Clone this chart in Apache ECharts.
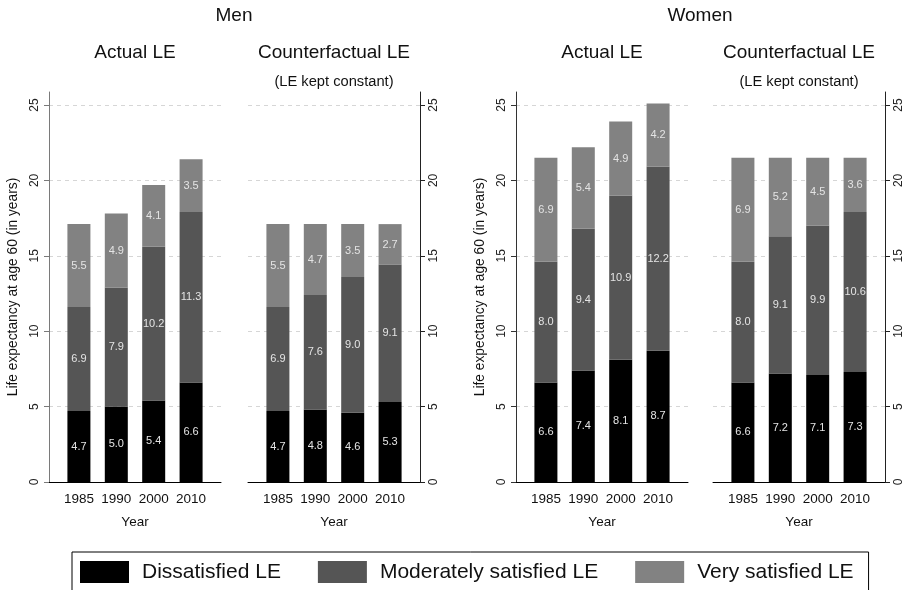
<!DOCTYPE html>
<html>
<head>
<meta charset="utf-8">
<script src="https://cdn.jsdelivr.net/npm/echarts@6/dist/echarts.min.js"></script>
<style>
  html, body { margin: 0; padding: 0; background: #fff; }
  #chart { width: 907px; height: 590px; }
</style>
</head>
<body>
<div id="chart"></div>
<script>
// Survey years (x categories)
const years = ['1985', '1990', '2000', '2010'];
const yTicks = [0, 5, 10, 15, 20, 25];

// Men, actual life expectancy at 60, split by satisfaction
const menActualDissatisfied = [4.7, 5.0, 5.4, 6.6];
const menActualModerate     = [6.9, 7.9, 10.2, 11.3];
const menActualVery         = [5.5, 4.9, 4.1, 3.5];

// Men, counterfactual (LE kept constant)
const menCounterDissatisfied = [4.7, 4.8, 4.6, 5.3];
const menCounterModerate     = [6.9, 7.6, 9.0, 9.1];
const menCounterVery         = [5.5, 4.7, 3.5, 2.7];

// Women, actual
const womenActualDissatisfied = [6.6, 7.4, 8.1, 8.7];
const womenActualModerate     = [8.0, 9.4, 10.9, 12.2];
const womenActualVery         = [6.9, 5.4, 4.9, 4.2];

// Women, counterfactual (LE kept constant)
const womenCounterDissatisfied = [6.6, 7.2, 7.1, 7.3];
const womenCounterModerate     = [8.0, 9.1, 9.9, 10.6];
const womenCounterVery         = [6.9, 5.2, 4.5, 3.6];

const seriesNames = ['Dissatisfied LE', 'Moderately satisfied LE', 'Very satisfied LE'];
const seriesColors = ['#000000', '#555555', '#828282'];

const panels = [
  [menActualDissatisfied, menActualModerate, menActualVery],
  [menCounterDissatisfied, menCounterModerate, menCounterVery],
  [womenActualDissatisfied, womenActualModerate, womenActualVery],
  [womenCounterDissatisfied, womenCounterModerate, womenCounterVery]
];

// Panel frames: left edge of each plot and which side carries the y axis
const panelLeft = [49, 248, 516, 713];
const panelSide = ['left', 'right', 'left', 'right'];
const axisColor = ['#7a7a7a', '#222222', '#333333', '#222222'];
const PLOT_W = 172, PLOT_TOP = 92, PLOT_BOTTOM = 482;

const FONT = '"Liberation Sans", Arial, Helvetica, sans-serif';

const grid = [], xAxis = [], yAxis = [], series = [];

panels.forEach((vals, i) => {
  grid.push({
    left: panelLeft[i], width: PLOT_W,
    top: PLOT_TOP, height: PLOT_BOTTOM - PLOT_TOP,
    containLabel: false
  });
  xAxis.push({
    type: 'value', gridIndex: i, min: -0.8, max: 3.8,
    axisLine: { show: true, onZero: false, lineStyle: { color: '#000', width: 1 } },
    axisTick: { show: false },
    splitLine: { show: false },
    axisLabel: {
      customValues: [0, 1, 2, 3],
      formatter: v => years[Math.round(v)],
      fontSize: 13.5, color: '#111', margin: 10, fontFamily: FONT
    },
    name: 'Year', nameLocation: 'middle', nameGap: 33,
    nameTextStyle: { fontSize: 13.5, color: '#111', fontFamily: FONT }
  });
  const isLeft = panelSide[i] === 'left';
  yAxis.push({
    type: 'value', gridIndex: i, min: 0, max: 25.86,
    position: panelSide[i],
    axisLine: { show: true, onZero: false, lineStyle: { color: axisColor[i], width: 1 } },
    axisTick: { show: true, length: 5, customValues: yTicks, lineStyle: { color: axisColor[i] } },
    axisLabel: {
      customValues: yTicks, rotate: 90, fontSize: 12, color: '#222', margin: 8, fontFamily: FONT
    },
    splitLine: { show: true, lineStyle: { type: [4, 4], color: '#d6d6d6', width: 1 } },
    name: isLeft ? 'Life expectancy at age 60 (in years)' : '',
    nameLocation: 'middle', nameGap: 29,
    nameTextStyle: { fontSize: 13.8, color: '#111', fontFamily: FONT }
  });
  vals.forEach((arr, k) => {
    series.push({
      type: 'bar',
      name: seriesNames[k],
      xAxisIndex: i, yAxisIndex: i,
      stack: 'panel' + i,
      barWidth: 23,
      // value first, year index second, so the value column is the stacked one
      data: arr.map((v, j) => [v, j]),
      encode: { x: 1, y: 0 },
      itemStyle: { color: seriesColors[k] },
      label: {
        show: true, position: 'inside',
        color: '#e4e4e4', fontSize: 11, fontFamily: FONT,
        formatter: p => p.value[0].toFixed(1)
      }
    });
  });
});

const titleStyle = (size) => ({ fontSize: size, fontWeight: 'normal', color: '#111', fontFamily: FONT });

const option = {
  animation: false,
  backgroundColor: '#ffffff',
  textStyle: { fontFamily: FONT },
  title: [
    { text: 'Men', left: 234, top: 6, textAlign: 'center', padding: 0, textStyle: titleStyle(19) },
    { text: 'Women', left: 700, top: 6, textAlign: 'center', padding: 0, textStyle: titleStyle(19) },
    { text: 'Actual LE', left: 135, top: 43, textAlign: 'center', padding: 0, textStyle: titleStyle(19) },
    { text: 'Counterfactual LE', left: 334, top: 43, textAlign: 'center', padding: 0, textStyle: titleStyle(19) },
    { text: '(LE kept constant)', left: 334, top: 74, textAlign: 'center', padding: 0, textStyle: titleStyle(14.7) },
    { text: 'Actual LE', left: 602, top: 43, textAlign: 'center', padding: 0, textStyle: titleStyle(19) },
    { text: 'Counterfactual LE', left: 799, top: 43, textAlign: 'center', padding: 0, textStyle: titleStyle(19) },
    { text: '(LE kept constant)', left: 799, top: 74, textAlign: 'center', padding: 0, textStyle: titleStyle(14.7) }
  ],
  legend: {
    data: seriesNames,
    left: 72, top: 552,
    orient: 'horizontal',
    icon: 'rect',
    itemWidth: 49, itemHeight: 22, itemGap: 37,
    padding: [9, 15, 20, 8],
    borderColor: '#000', borderWidth: 1, borderRadius: 0,
    selectedMode: false,
    textStyle: { fontSize: 21, color: '#111', fontFamily: FONT, padding: [0, 0, 0, 8] }
  },
  grid, xAxis, yAxis, series
};

const chart = echarts.init(document.getElementById('chart'), null, { renderer: 'canvas' });
chart.setOption(option);
</script>
</body>
</html>
